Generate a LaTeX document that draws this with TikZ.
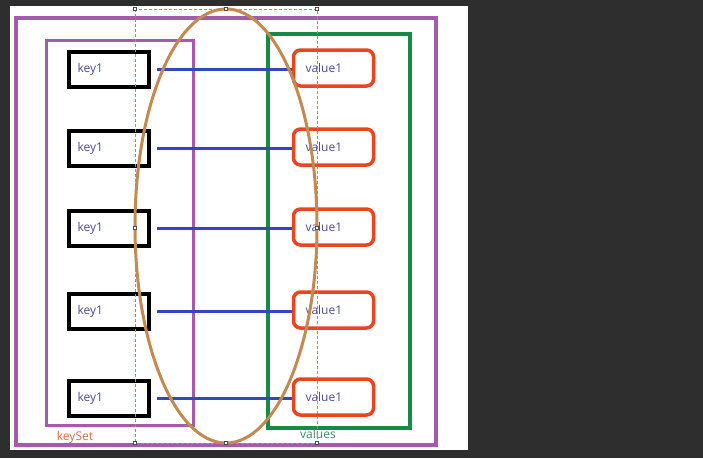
\documentclass[tikz,border=0pt]{standalone}
\usepackage{fontspec}
\setmainfont{Open Sans}
\usetikzlibrary{shapes.geometric}
\definecolor{board}{HTML}{2E2E2E}
\definecolor{setpurple}{HTML}{A45CAA}
\definecolor{valgreen}{HTML}{178A45}
\definecolor{valred}{HTML}{EA4420}
\definecolor{linkblue}{HTML}{3446BE}
\definecolor{ovalbrown}{HTML}{C28A52}
\definecolor{selblue}{HTML}{6C9EC6}
\definecolor{txtblue}{HTML}{4A4C98}
\definecolor{keysetred}{HTML}{E0684A}
\definecolor{valuesgreen}{HTML}{3C8C62}
\tikzset{
  keybox/.style={draw=black, line width=4pt, minimum width=80pt, minimum height=35pt,
    inner xsep=8pt, text width=62pt, align=left, font=\fontsize{12}{14}\selectfont, text=txtblue},
  valbox/.style={draw=valred, line width=3.5pt, rounded corners=7pt, minimum width=80pt, minimum height=36pt,
    inner xsep=11pt, text width=56pt, align=left, font=\fontsize{12}{14}\selectfont, text=txtblue},
  link/.style={draw=linkblue, line width=3pt, shorten <=6pt},
  handle/.style={draw=black!70, fill=white, line width=0.6pt, minimum size=3.5pt, inner sep=0pt}
}
\begin{document}
\begin{tikzpicture}[x=1pt, y=-1pt]
\useasboundingbox (0,0) rectangle (703,458);
\fill[board] (0,0) rectangle (703,458);
\fill[white] (10,6) rectangle (468,450);
% containers
\draw[setpurple, line width=4pt] (16,18) rectangle (436,445);
\draw[setpurple, line width=3pt] (46,40) rectangle (193,425);
\draw[valgreen, line width=4pt] (268,34) rectangle (410,428);
\node[text=keysetred, font=\fontsize{12}{14}\selectfont] (keyset) at (75,437) {keySet};
\node[text=valuesgreen, font=\fontsize{12}{14}\selectfont] (values) at (318,434) {values};
% rows
\foreach \i/\y in {1/70, 2/149, 3/229, 4/312, 5/399} {
  \node[keybox] (k\i) at (108.5,\y-1) {key1};
  \node[valbox] (v\i) at (333.5,\y-2) {value1};
  \draw[link] (k\i.east) -- (v\i.west |- k\i.east);
}
% oval
\node[draw=ovalbrown, line width=3pt, ellipse, minimum width=182pt, minimum height=434pt, inner sep=0pt] (oval) at (226,226) {};
% selection box
\draw[selblue, line width=0.8pt, dash pattern=on 3pt off 2pt] (135,9) rectangle (317,443);
\foreach \n/\x/\y in {a/135/9, b/226/9, c/317/9, d/135/228, e/317/228, f/135/443, g/226/443, h/317/443}
  \node[handle] (h\n) at (\x,\y) {};
\end{tikzpicture}
\end{document}
